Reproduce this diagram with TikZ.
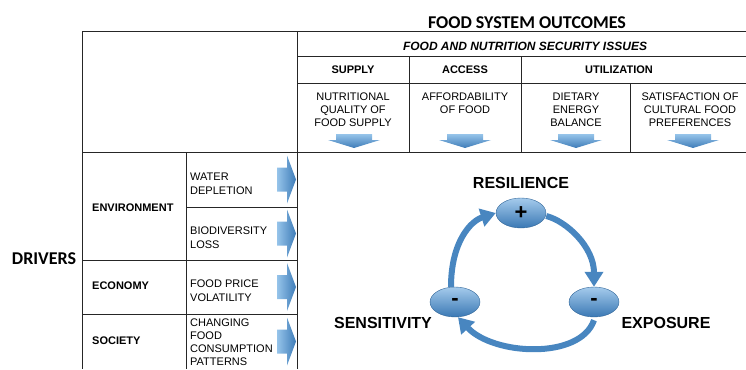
\documentclass[tikz,border=0pt]{standalone}
\usepackage{fontspec}
\setmainfont{Liberation Sans}
\newfontfamily\headfont{Carlito}
\usetikzlibrary{arrows.meta,positioning,shapes.geometric}

\definecolor{arrLight}{RGB}{150,196,234}
\definecolor{arrDark}{RGB}{62,124,184}
\definecolor{cycBlue}{RGB}{72,134,192}
\definecolor{ellLight}{RGB}{165,203,236}
\definecolor{ellDark}{RGB}{58,120,180}

\tikzset{
	tbl/.style={line width=1pt,draw=black!85},
	celltxt/.style={inner sep=0pt,align=left,anchor=north west,font=\fontsize{11}{14}\selectfont},
	toptxt/.style={inner sep=0pt,align=center,anchor=north,font=\fontsize{11}{12.7}\selectfont},
	rowhead/.style={inner sep=0pt,anchor=west,font=\bfseries\fontsize{11}{13}\selectfont},
	colhead/.style={inner sep=0pt,font=\bfseries\fontsize{11}{13}\selectfont},
	bighead/.style={inner sep=0pt,font=\headfont\bfseries\fontsize{18}{20}\selectfont},
	cyclbl/.style={inner sep=0pt,font=\bfseries\fontsize{16}{18}\selectfont},
	loopnode/.style={ellipse,minimum width=50pt,minimum height=30pt,inner sep=0pt,top color=ellLight,bottom color=ellDark,draw=ellDark!85!black,line width=0.4pt,font=\bfseries\fontsize{22}{24}\selectfont},
	looparr/.style={draw=cycBlue,line width=6pt,-{Triangle[length=15pt,width=18pt]}},
	dnarr/.pic={\shade[top color=arrLight,bottom color=arrDark] (-18,-7) -- (18,-7) -- (18,-1) -- (26,-1) -- (0,7) -- (-26,-1) -- (-18,-1) -- cycle;},
	rtarr/.pic={\shade[left color=arrLight,right color=arrDark] (-10,-12) -- (0,-12) -- (0,-24) -- (9,0) -- (0,24) -- (0,12) -- (-10,12) -- cycle;}
}

\begin{document}
\begin{tikzpicture}[x=1pt,y=-1pt]
		\def\xColA{82}
		\def\xColB{186}
		\def\xColC{297}
		\def\xColD{409}
		\def\xColE{521}
		\def\xColF{630}
		\def\xEnd{746}
		\def\yRowA{32}
		\def\yRowB{57}
		\def\yRowC{83}
		\def\yRowD{152}
		\def\yRowE{207}
		\def\yRowF{260}
		\def\yRowG{314}
		\def\yEnd{369}

\useasboundingbox (0,0) rectangle (\xEnd,\yEnd);

\draw[tbl] (\xColA,\yRowA) -- (\xEnd,\yRowA);
\draw[tbl] (\xColA,\yRowA) -- (\xColA,\yEnd);
\draw[tbl] (\xColC,\yRowA) -- (\xColC,\yEnd);
\draw[tbl] (\xColA,\yRowD) -- (\xEnd,\yRowD);
\draw[tbl] (\xColC,\yRowB) -- (\xEnd,\yRowB);
\draw[tbl] (\xColC,\yRowC) -- (\xEnd,\yRowC);
\draw[tbl] (\xColD,\yRowB) -- (\xColD,\yRowD);
\draw[tbl] (\xColE,\yRowB) -- (\xColE,\yRowD);
\draw[tbl] (\xColF,\yRowC) -- (\xColF,\yRowD);
\draw[tbl] (\xColB,\yRowD) -- (\xColB,\yEnd);
\draw[tbl] (\xColB,\yRowE) -- (\xColC,\yRowE);
\draw[tbl] (\xColA,\yRowF) -- (\xColC,\yRowF);
\draw[tbl] (\xColA,\yRowG) -- (\xColC,\yRowG);

\node[bighead] (outcomes) at (527,22.5) {FOOD SYSTEM OUTCOMES};
\node[bighead] (drivers) at (44,259) {DRIVERS};

\node[colhead,font=\bfseries\itshape\fontsize{12}{14}\selectfont] (issues) at (525,46) {FOOD AND NUTRITION SECURITY ISSUES};
\node[colhead] (supply) at (353,70) {SUPPLY};
\node[colhead] (access) at (465,70) {ACCESS};
\node[colhead] (utiliz) at (619,70) {UTILIZATION};

\node[toptxt] (quality) at (353,93) {NUTRITIONAL\\QUALITY OF\\FOOD SUPPLY};
\node[toptxt] (afford) at (465,93) {AFFORDABILITY\\OF FOOD};
\node[toptxt] (dietary) at (576,93) {DIETARY\\ENERGY\\BALANCE};
\node[toptxt] (culture) at (690,93) {SATISFACTION OF\\CULTURAL FOOD\\PREFERENCES};

\pic (dnSupply) at (354,141) {dnarr};
\pic (dnAccess) at (465,141) {dnarr};
\pic (dnDietary) at (576,141) {dnarr};
\pic (dnCulture) at (693,141) {dnarr};

\node[rowhead] (environ) at (92,207.5) {ENVIRONMENT};
\node[rowhead] (economy) at (92,286) {ECONOMY};
\node[rowhead] (society) at (92,341) {SOCIETY};

\node[celltxt] (water) at (190,172.7) {WATER\\DEPLETION};
\node[celltxt] (biodiv) at (190,226.7) {BIODIVERSITY\\LOSS};
\node[celltxt] (price) at (190,280) {FOOD PRICE\\VOLATILITY};
\node[celltxt,font=\fontsize{11}{13}\selectfont] (consump) at (190,319) {CHANGING\\FOOD\\CONSUMPTION\\PATTERNS};

\pic (rtWater) at (287,179.5) {rtarr};
\pic (rtBiodiv) at (287,233.5) {rtarr};
\pic (rtPrice) at (287,287) {rtarr};
\pic (rtConsump) at (287,341.5) {rtarr};

\node[loopnode] (res) at (521,213) {+};
\node[loopnode] (sens) at (455,302) {-};
\node[loopnode] (expo) at (594,302) {-};

\node[cyclbl,above=9pt of res] (reslbl) {RESILIENCE};
\node[cyclbl] (senslbl) at (383,323) {SENSITIVITY};
\node[cyclbl] (expolbl) at (666,323) {EXPOSURE};

\draw[looparr] ([xshift=-4pt]sens.north) .. controls +(0,-45) and +(-25,8) .. (res.west);
\draw[looparr] ([yshift=-3pt]res.east) .. controls +(20,5) and +(0,-40) .. (expo.north);
\draw[looparr] ([yshift=-3pt]expo.south) .. controls +(-14,40) and +(35,38) .. ([xshift=3pt]sens.south);

	\end{tikzpicture}
\end{document}
